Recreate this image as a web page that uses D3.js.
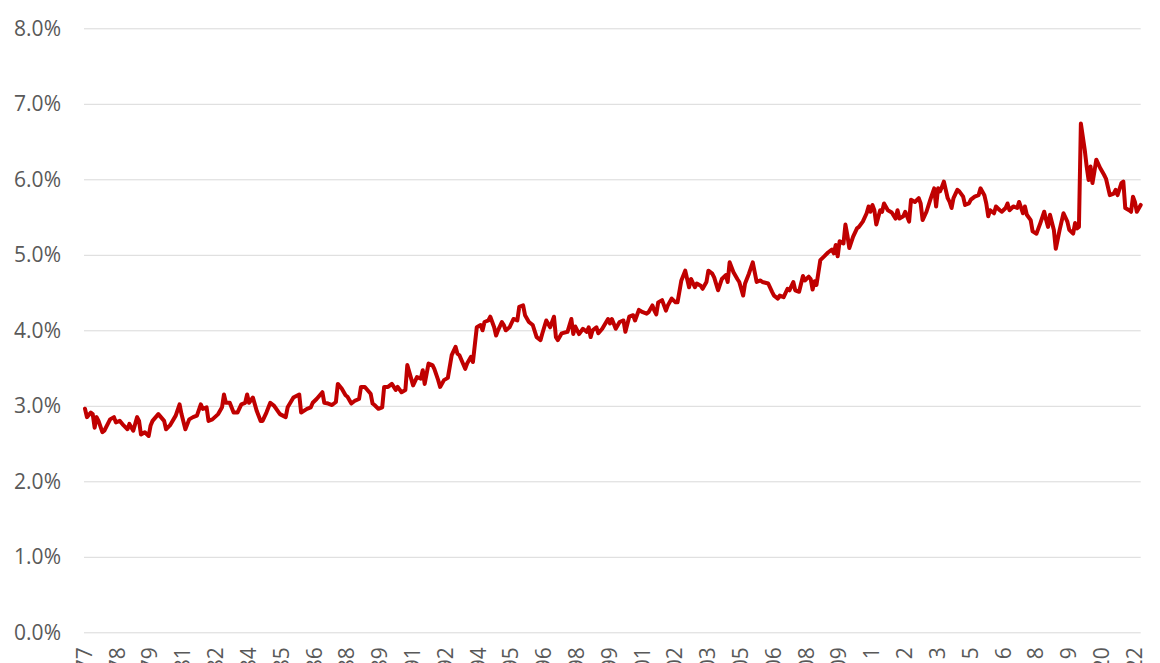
<!DOCTYPE html>
<html>
<head>
<meta charset="utf-8">
<script src="https://cdn.jsdelivr.net/npm/d3@7"></script>
<style>
  html, body { margin: 0; padding: 0; background: #ffffff; }
  svg { display: block; }
</style>
</head>
<body>
<svg id="chart" width="1160" height="663"></svg>
<script>
// Month offsets since Jan-1977 (category index of the monthly series)
const monthIndex = [
  0,1,3,4,5,6,7,9,10,13,
  15,16,18,20,22,23,25,27,28,29,
  31,33,34,35,38,41,42,44,47,49,
  50,52,54,56,58,60,61,63,64,66,
  69,71,72,73,75,77,79,81,83,84,
  85,87,89,91,92,94,96,98,101,104,
  105,108,111,112,115,117,118,120,123,124,
  126,128,130,131,133,135,136,138,140,142,
  143,145,148,149,150,152,154,155,157,159,
  161,162,164,166,167,169,170,172,174,175,
  176,178,180,181,183,184,186,188,190,192,
  193,194,197,198,200,201,203,205,206,207,
  209,210,212,213,214,216,217,218,220,222,
  224,225,227,228,230,232,234,236,237,239,
  241,243,244,245,247,250,252,253,254,256,
  258,260,261,262,263,265,266,268,271,272,
  273,275,277,279,280,282,284,285,287,289,
  291,292,294,295,296,297,299,301,302,304,
  306,307,309,311,312,313,314,316,317,319,
  320,322,323,325,326,328,330,332,333,334,
  336,338,339,341,342,344,346,348,350,351,
  354,356,357,359,360,362,364,365,367,368,
  370,372,373,375,376,377,378,379,381,383,
  385,387,388,389,390,391,393,394,395,396,
  398,400,401,403,405,406,407,408,409,410,
  412,413,414,416,418,420,421,422,424,425,
  427,428,430,432,433,434,436,438,440,441,
  442,443,444,445,447,448,449,450,452,453,
  455,456,458,459,461,463,464,466,467,468,
  469,471,472,474,475,477,478,479,481,483,
  484,486,487,488,490,491,493,495,497,498,
  499,500,502,503,505,507,509,510,512,513,
  514,515,516,518,519,520,521,522,523,524,
  526,528,529,531,533,534,535,537,538,539,
  541,542,543,544,545,547
];

// Series values (percent)
const rateValues = [
  2.96,2.85,2.91,2.89,2.71,2.85,2.80,2.65,2.67,2.82,
  2.85,2.78,2.80,2.74,2.69,2.76,2.67,2.85,2.80,2.62,
  2.65,2.60,2.74,2.80,2.89,2.80,2.69,2.74,2.87,3.02,
  2.89,2.69,2.82,2.85,2.87,3.02,2.96,2.98,2.80,2.82,
  2.89,2.98,3.15,3.04,3.04,2.91,2.91,3.02,3.04,3.15,
  3.04,3.11,2.93,2.80,2.80,2.91,3.04,3.00,2.89,2.85,
  2.98,3.11,3.15,2.91,2.96,2.98,3.04,3.09,3.18,3.04,
  3.03,3.01,3.05,3.29,3.23,3.14,3.12,3.03,3.07,3.09,
  3.25,3.25,3.16,3.03,3.01,2.96,2.98,3.25,3.25,3.29,
  3.21,3.25,3.18,3.21,3.54,3.36,3.27,3.38,3.36,3.47,
  3.29,3.56,3.54,3.49,3.34,3.25,3.34,3.37,3.67,3.78,
  3.69,3.67,3.49,3.56,3.65,3.58,4.04,4.07,4.00,4.11,
  4.13,4.18,4.04,3.93,4.00,4.11,4.07,4.00,4.04,4.15,
  4.13,4.31,4.33,4.20,4.11,4.07,3.91,3.87,3.96,4.13,
  4.04,4.18,3.91,3.87,3.96,3.98,4.15,3.95,4.05,3.95,
  4.02,3.98,4.04,3.91,4.00,4.04,3.96,4.02,4.15,4.09,
  4.15,4.02,4.11,4.13,3.98,4.18,4.20,4.13,4.27,4.24,
  4.22,4.24,4.33,4.26,4.21,4.37,4.40,4.26,4.33,4.42,
  4.37,4.37,4.66,4.79,4.68,4.57,4.68,4.57,4.62,4.59,
  4.55,4.64,4.79,4.75,4.70,4.53,4.68,4.73,4.64,4.90,
  4.77,4.68,4.64,4.46,4.62,4.75,4.90,4.64,4.66,4.64,
  4.62,4.51,4.46,4.42,4.46,4.44,4.55,4.53,4.64,4.53,
  4.51,4.72,4.66,4.71,4.68,4.54,4.65,4.60,4.93,4.98,
  5.03,5.07,5.02,5.13,4.98,5.18,5.15,5.40,5.26,5.09,
  5.24,5.35,5.37,5.44,5.55,5.64,5.57,5.66,5.59,5.40,
  5.59,5.57,5.68,5.59,5.56,5.48,5.59,5.48,5.51,5.57,
  5.44,5.73,5.70,5.75,5.68,5.46,5.57,5.73,5.88,5.64,
  5.88,5.84,5.90,5.97,5.75,5.70,5.62,5.75,5.86,5.84,
  5.77,5.66,5.68,5.73,5.77,5.79,5.88,5.79,5.68,5.51,
  5.59,5.55,5.64,5.59,5.57,5.62,5.68,5.59,5.64,5.62,
  5.70,5.55,5.64,5.53,5.46,5.31,5.28,5.42,5.57,5.46,
  5.37,5.53,5.33,5.08,5.33,5.55,5.44,5.33,5.28,5.42,
  5.35,5.37,6.74,6.39,6.17,5.99,6.17,5.95,6.10,6.26,
  6.15,6.06,6.01,5.79,5.81,5.86,5.79,5.95,5.97,5.62,
  5.59,5.57,5.77,5.70,5.57,5.66
];

// Category axis labels (every 17th month starting Jan-77)
const xTickLabels = [
  "Jan-77","Jun-78","Nov-79","Apr-81","Sep-82","Feb-84","Jul-85","Dec-86",
  "May-88","Oct-89","Mar-91","Aug-92","Jan-94","Jun-95","Nov-96","Apr-98",
  "Sep-99","Feb-01","Jul-02","Dec-03","May-05","Oct-06","Mar-08","Aug-09",
  "Jan-11","Jun-12","Nov-13","Apr-15","Sep-16","Feb-18","Jul-19","Dec-20","May-22"
];
const xTickStep = 17;
const totalMonths = 548;

const yTicks = [0, 1, 2, 3, 4, 5, 6, 7, 8];

const svg = d3.select("#chart");
svg.append("rect").attr("width", 1160).attr("height", 663).attr("fill", "#ffffff");

const x = d3.scaleLinear().domain([0, totalMonths - 1]).range([85, 1140.7]);
const y = d3.scaleLinear().domain([0, 8]).range([632.3, 28.3]);

const FONT = "'Open Sans', 'Liberation Sans', sans-serif";
const TXT = "#595959";

// gridlines + y labels via axis
const yAxis = d3.axisLeft(y)
  .tickValues(yTicks)
  .tickSize(-(1140.7 - 84))
  .tickPadding(23)
  .tickFormat(d => d.toFixed(1) + "%");

const gy = svg.append("g")
  .attr("transform", "translate(84,0)")
  .call(yAxis);
gy.select(".domain").remove();
gy.selectAll(".tick line").attr("stroke", "#d9d9d9").attr("stroke-width", 1);
gy.selectAll(".tick text")
  .attr("fill", TXT)
  .style("font-family", FONT)
  .style("font-size", "21px");

// x labels (rotated; the plot area cuts them off at the bottom edge, as in the source)
const xTickVals = xTickLabels.map((_, i) => i * xTickStep);
const xAxis = d3.axisBottom(x)
  .tickValues(xTickVals)
  .tickSize(0)
  .tickFormat((d, i) => xTickLabels[i]);
const gx = svg.append("g")
  .attr("transform", "translate(0,632.3)")
  .call(xAxis);
gx.select(".domain").remove();
gx.selectAll(".tick text")
  .attr("fill", TXT)
  .style("font-family", FONT)
  .style("font-size", "21px")
  .attr("text-anchor", "end")
  .attr("transform", "translate(-1,15) rotate(-90)")
  .attr("x", 0)
  .attr("y", 0)
  .attr("dy", "0.35em");

// line
const data = monthIndex.map((m, i) => ({ m, v: rateValues[i] }));
const line = d3.line().x(d => x(d.m)).y(d => y(d.v));
svg.append("path")
  .datum(data)
  .attr("fill", "none")
  .attr("stroke", "#c00000")
  .attr("stroke-width", 4)
  .attr("stroke-linejoin", "round")
  .attr("stroke-linecap", "round")
  .attr("d", line);
</script>
</body>
</html>
